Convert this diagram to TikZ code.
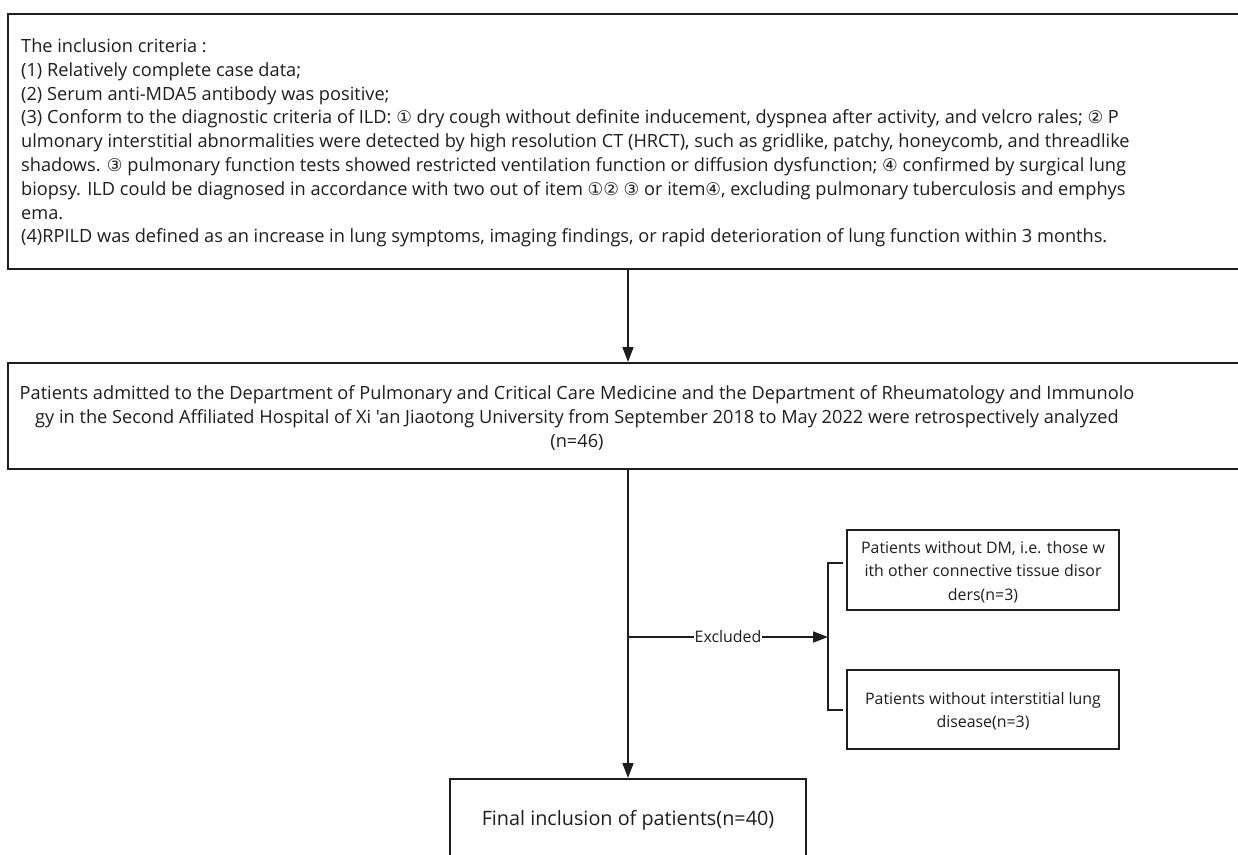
\documentclass[tikz,border=0pt]{standalone}
\usepackage{fontspec}
\setmainfont{Open Sans}[Ligatures=TeXOff]
\newfontfamily\symfont{DejaVu Sans}
\newcommand{\cnum}[1]{{\symfont\fontsize{17.5}{17.5}\selectfont #1}}
\usetikzlibrary{arrows.meta}
\definecolor{ink}{RGB}{30,30,30}
\tikzset{
  box/.style={draw=ink, line width=2pt, fill=white, inner sep=0pt, rectangle},
  txt/.style={inner sep=0pt, text=ink, font=\fontsize{18.2}{23.8}\selectfont},
  smalltxt/.style={inner sep=0pt, text=ink, font=\fontsize{15.9}{23.6}\selectfont},
  conn/.style={draw=ink, line width=1.8pt},
  arr/.style={conn, -{Triangle[length=15pt,width=11pt]}}
}
\begin{document}
\begin{tikzpicture}[x=1pt,y=-1pt]
\useasboundingbox (0,0) rectangle (1238,854);
\fill[white] (0,0) rectangle (1238,854);
\clip (0,0) rectangle (1238,854);
% boxes
\node[box, anchor=north west, minimum width=1260pt, minimum height=255pt] (top) at (7,13) {};
\node[box, anchor=north west, minimum width=1260pt, minimum height=106pt] (mid) at (7,362) {};
\node[box, anchor=north west, minimum width=356pt, minimum height=110pt] (fin) at (449,778) {};
\node[box, anchor=north west, minimum width=272pt, minimum height=80pt] (boxa) at (846,529) {};
\node[box, anchor=north west, minimum width=272pt, minimum height=79pt] (boxb) at (846,669) {};
% texts
\node[txt, anchor=north west, align=left] (toptext) at (21,38.5) {The inclusion criteria :\\
(1) Relatively complete case data;\\
(2) Serum anti-MDA5 antibody was positive;\\
(3) Conform to the diagnostic criteria of ILD: \cnum{①} dry cough without definite inducement, dyspnea after activity, and velcro rales; \cnum{②} P\\
ulmonary interstitial abnormalities were detected by high resolution CT (HRCT), such as gridlike, patchy, honeycomb, and threadlike\\
shadows. \cnum{③} pulmonary function tests showed restricted ventilation function or diffusion dysfunction; \cnum{④} confirmed by surgical lung\\
biopsy. ILD could be diagnosed in accordance with two out of item \cnum{①②} \cnum{③} or item\cnum{④}, excluding pulmonary tuberculosis and emphys\\
ema.\\
(4)RPILD was defined as an increase in lung symptoms, imaging findings, or rapid deterioration of lung function within 3 months.};
\node[txt, anchor=north, align=center] (midtext) at (577,385.5) {Patients admitted to the Department of Pulmonary and Critical Care Medicine and the Department of Rheumatology and Immunolo\\
gy in the Second Affiliated Hospital of Xi 'an Jiaotong University from September 2018 to May 2022 were retrospectively analyzed\\
(n=46)};
\node[smalltxt, anchor=north, align=center] (atext) at (boxa.north |- 0,541) {Patients without DM, i.e. those w\\
ith other connective tissue disor\\
ders(n=3)};
\node[smalltxt, anchor=north, align=center] (btext) at (boxb.north |- 0,692) {Patients without interstitial lung\\
disease(n=3)};
\node[txt, anchor=base, font=\fontsize{19.8}{24}\selectfont] (fintext) at (fin.north |- 0,825) {Final inclusion of patients(n=40)};
% connectors
\coordinate (br) at (828,637);
\coordinate (jn) at (fin.north |- br);
\draw[arr] (fin.north |- top.south) -- (fin.north |- mid.north);
\draw[arr] (fin.north |- mid.south) -- (fin.north);
\draw[arr] (jn) -- node[smalltxt, fill=white, inner xsep=0.5pt, inner ysep=2pt] (exl) {Excluded} (br);
\draw[conn] ([xshift=-3pt]boxa.west |- 0,563) -| (br) |- ([xshift=-3pt]boxb.west |- 0,710);
\end{tikzpicture}
\end{document}
